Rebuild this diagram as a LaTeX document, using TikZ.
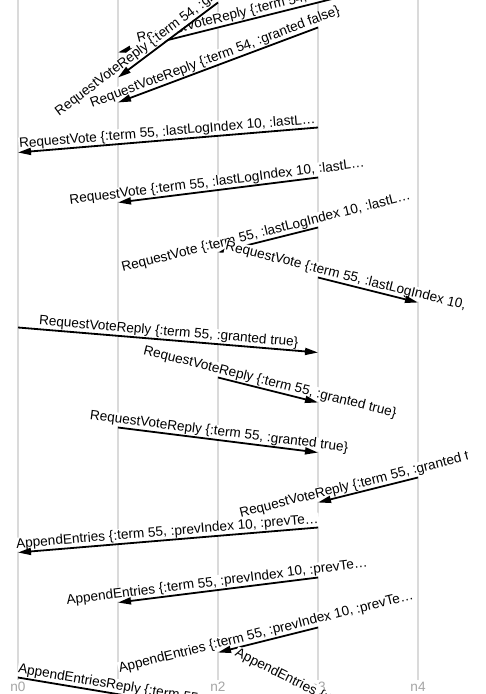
\documentclass[tikz,border=0pt]{standalone}
\usepackage{fontspec}
\setmainfont{Liberation Sans}
\usetikzlibrary{arrows.meta}
\definecolor{lanecol}{RGB}{218,218,218}
\definecolor{lanetext}{RGB}{165,165,165}
\tikzset{
  lane/.style={draw=lanecol, line width=2pt},
  lanelabel/.style={text=lanetext, font=\fontsize{13.6}{16}\selectfont, inner sep=0pt, anchor=base},
  msgline/.style={draw=black, line width=1.8pt, -{Triangle[length=13pt,width=7pt]}},
  msglabel/.style={sloped, above=0.8pt, fill=white, inner sep=0.6pt, font=\fontsize{13.6}{16}\selectfont},
}
\newcommand\sendmsg[3]{%
  \path (#1) -- node[msglabel]{#3} (#2);
  \draw[msgline] (#1) -- (#2);
}
\begin{document}
\begin{tikzpicture}[x=1pt,y=-1pt]
\useasboundingbox (0,0) rectangle (485,694);
\fill[white] (0,0) rectangle (485,694);
\clip (0,0) rectangle (467,694);
\foreach \i/\x in {0/18,1/118,2/218,3/318,4/418} {
  \coordinate (n\i top) at (\x,-30);
  \coordinate (n\i bot) at (\x,680);
  \draw[lane] (n\i top) -- (n\i bot);
  \node[lanelabel] (n\i lbl) at (\x,691) {n\i};
}
% event coordinates
\coordinate (m2s) at (218,2.5);   \coordinate (m2r) at (118,77.5);
\coordinate (m3s) at (418,-22.5); \coordinate (m3r) at (118,52.5);
\coordinate (m4s) at (318,27.5);  \coordinate (m4r) at (118,102.5);
\coordinate (m5s) at (318,127.5); \coordinate (m5r) at (18,152.5);
\coordinate (m6s) at (318,177.5); \coordinate (m6r) at (118,202.5);
\coordinate (m7s) at (318,227.5); \coordinate (m7r) at (218,252.5);
\coordinate (m8s) at (318,277.5); \coordinate (m8r) at (418,302.5);
\coordinate (m9s) at (18,327.5);  \coordinate (m9r) at (318,352.5);
\coordinate (m10s) at (218,377.5); \coordinate (m10r) at (318,402.5);
\coordinate (m11s) at (118,427.5); \coordinate (m11r) at (318,452.5);
\coordinate (m12s) at (418,477.5); \coordinate (m12r) at (318,502.5);
\coordinate (m13s) at (318,527.5); \coordinate (m13r) at (18,552.5);
\coordinate (m14s) at (318,577.5); \coordinate (m14r) at (118,602.5);
\coordinate (m15s) at (318,627.5); \coordinate (m15r) at (218,652.5);
\coordinate (m17s) at (18,677.5);  \coordinate (m17r) at (318,727.5);
\coordinate (m16s) at (318,702.5); \coordinate (m16r) at (418,752.5);
% messages
\sendmsg{m3s}{m3r}{RequestVoteReply \{:term 54, :granted false\}}
\sendmsg{m2s}{m2r}{RequestVoteReply \{:term 54, :granted false\}}
\sendmsg{m4s}{m4r}{RequestVoteReply \{:term 54, :granted false\}}
\sendmsg{m5s}{m5r}{RequestVote \{:term 55, :lastLogIndex 10, :lastL…}
\sendmsg{m6s}{m6r}{RequestVote \{:term 55, :lastLogIndex 10, :lastL…}
\sendmsg{m7s}{m7r}{RequestVote \{:term 55, :lastLogIndex 10, :lastL…}
\sendmsg{m8s}{m8r}{RequestVote \{:term 55, :lastLogIndex 10, :lastL…}
\sendmsg{m9s}{m9r}{RequestVoteReply \{:term 55, :granted true\}}
\sendmsg{m10s}{m10r}{RequestVoteReply \{:term 55, :granted true\}}
\sendmsg{m11s}{m11r}{RequestVoteReply \{:term 55, :granted true\}}
\sendmsg{m12s}{m12r}{RequestVoteReply \{:term 55, :granted true\}}
\sendmsg{m13s}{m13r}{AppendEntries \{:term 55, :prevIndex 10, :prevTe…}
\sendmsg{m14s}{m14r}{AppendEntries \{:term 55, :prevIndex 10, :prevTe…}
\sendmsg{m15s}{m15r}{AppendEntries \{:term 55, :prevIndex 10, :prevTe…}
\sendmsg{m17s}{m17r}{AppendEntriesReply \{:term 55, :success true, :m…}
\sendmsg{m16s}{m16r}{AppendEntries \{:term 55, :prevIndex 10, :prevTe…}
\end{tikzpicture}
\end{document}
